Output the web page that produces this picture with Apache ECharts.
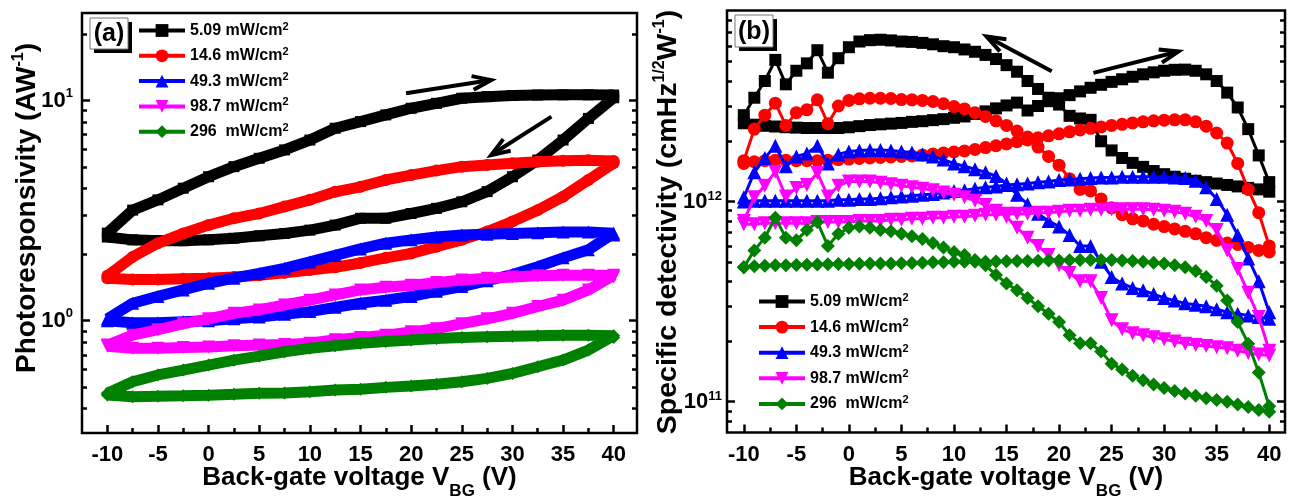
<!DOCTYPE html>
<html><head><meta charset="utf-8">
<script src="https://cdn.jsdelivr.net/npm/echarts@6/dist/echarts.min.js"></script>
<style>html,body{margin:0;padding:0;background:#fff}#c{width:1291px;height:497px}</style>
</head><body><div id="c"></div>
<script>
// ---------- data ----------
const seriesNames = ['5.09 mW/cm2','14.6 mW/cm2','49.3 mW/cm2','98.7 mW/cm2','296  mW/cm2'];
const colors = ['#000000','#ff0000','#0000ff','#ff00ff','#008000'];
const xTicks = [-10,-5,0,5,10,15,20,25,30,35,40];
const xMinorTicks = [-7.5,-2.5,2.5,7.5,12.5,17.5,22.5,27.5,32.5,37.5];
const yExpA = [0,1];
const yMinorA = [0.4,0.5,0.6,0.7,0.8,0.9,2,3,4,5,6,7,8,9,20];
const yExpB = [11,12];
const yMinorB = [8e10,9e10,2e11,3e11,4e11,5e11,6e11,7e11,8e11,9e11,2e12,3e12,4e12,5e12,6e12,7e12,8e12];

// panel (a): back-gate voltage (V), photoresponsivity (A/W)
const vA = [-10,-7.5,-5,-2.5,0,2.5,5,7.5,10,12.5,15,17.5,20,22.5,25,27.5,30,32.5,35,37.5,40];
// forward sweep listed -10 -> 40, reverse sweep listed 40 -> -10
const blackA_fwd = [2.5,3.18,3.54,4.0,4.51,5.01,5.47,5.97,6.62,7.49,8.03,8.61,9.23,9.72,10.25,10.42,10.55,10.6,10.62,10.62,10.6];
const blackA_rev = [10.3,8.3,6.62,5.37,4.51,3.86,3.47,3.24,3.07,2.92,2.92,2.72,2.58,2.49,2.43,2.37,2.33,2.31,2.31,2.33,2.4];
const redA_fwd = [1.6,1.95,2.25,2.49,2.72,2.92,3.07,3.3,3.54,3.85,4.06,4.36,4.59,4.81,5.01,5.1,5.19,5.28,5.33,5.36,5.32];
const redA_rev = [5.2,4.36,3.66,3.18,2.82,2.54,2.33,2.17,2.02,1.93,1.83,1.75,1.7,1.65,1.61,1.58,1.56,1.55,1.54,1.54,1.56];
const blueA_fwd = [1.02,1.2,1.29,1.38,1.48,1.56,1.64,1.73,1.85,1.98,2.12,2.25,2.33,2.4,2.45,2.47,2.49,2.51,2.53,2.53,2.5];
const blueA_rev = [2.45,2.1,1.93,1.76,1.62,1.52,1.43,1.36,1.29,1.24,1.2,1.15,1.1,1.07,1.04,1.02,1.0,0.99,0.98,0.98,1.0];
const magA_fwd = [0.775,0.86,0.91,0.97,1.02,1.08,1.12,1.18,1.24,1.31,1.38,1.42,1.45,1.49,1.53,1.56,1.58,1.6,1.61,1.61,1.61];
const magA_rev = [1.58,1.38,1.24,1.16,1.08,1.02,0.97,0.92,0.89,0.86,0.84,0.82,0.79,0.78,0.775,0.77,0.76,0.755,0.75,0.75,0.765];
const greenA_fwd = [0.468,0.528,0.567,0.597,0.629,0.662,0.691,0.723,0.749,0.77,0.79,0.805,0.817,0.83,0.84,0.845,0.85,0.855,0.86,0.86,0.855];
const greenA_rev = [0.84,0.736,0.663,0.618,0.576,0.547,0.528,0.515,0.505,0.498,0.488,0.484,0.476,0.47,0.468,0.463,0.459,0.456,0.454,0.452,0.46];

// panel (b): back-gate voltage (V), specific detectivity in units of 1e12 cmHz^1/2/W
const UNIT_B = 1e12;
const vB = [-10,-9,-8,-7,-6,-5,-4,-3,-2,-1,0,1,2,3,4,5,6,7,8,9,10,11,12,13,14,15,16,17,18,19,20,21,22,23,24,25,26,27,28,29,30,31,32,33,34,35,36,37,38,39,40];
const blackB_fwd = [2.46,2.42,2.39,2.37,2.35,2.34,2.33,2.33,2.33,2.33, 2.35,2.38,2.41,2.43,2.45,2.47,2.5,2.52,2.55,2.58, 2.62,2.66,2.74,2.82,2.92,3.02,3.12,2.85,3.0,3.17, 3.28,3.4,3.55,3.7,3.83,3.96,4.08,4.2,4.32,4.42, 4.5,4.55,4.56,4.5,4.32,4.0,3.5,2.95,2.3,1.7, 1.25];
const blackB_rev = [1.12,1.15,1.17,1.19,1.21,1.23,1.25,1.27,1.3,1.33, 1.37,1.42,1.49,1.56,1.65,1.8,2.0,2.56,2.6,2.68, 3.05,3.3,3.65,4.0,4.45,4.8,5.15,5.4,5.6,5.75, 5.9,5.97,6.1,6.2,6.27,6.3,6.38,6.43,6.4,6.3, 5.9,5.2,4.4,5.7,4.9,4.5,3.85,5.1,4.0,3.3, 2.7];
const redB_fwd = [1.55,1.58,1.6,1.61,1.61,1.6,1.6,1.6,1.61,1.62, 1.63,1.64,1.65,1.66,1.67,1.68,1.69,1.71,1.73,1.75, 1.77,1.79,1.82,1.86,1.9,1.94,1.99,2.03,2.08,2.13, 2.18,2.23,2.28,2.32,2.36,2.4,2.43,2.47,2.5,2.53, 2.55,2.56,2.56,2.5,2.38,2.2,1.96,1.55,1.15,0.88, 0.6];
const redB_rev = [0.56,0.57,0.59,0.61,0.62,0.64,0.66,0.69,0.71,0.73, 0.75,0.77,0.8,0.82,0.86,0.93,1.03,1.13,1.15,1.3, 1.52,1.68,1.87,2.1,2.25,2.4,2.53,2.66,2.78,2.9, 2.98,3.08,3.16,3.2,3.22,3.23,3.27,3.28,3.28,3.26, 3.2,3.0,2.45,3.22,2.87,2.78,2.4,3.1,2.7,2.3, 1.6];
const blueB_fwd = [1.0,1.01,1.01,1.01,1.01,1.01,1.01,1.01,1.01,1.02, 1.02,1.03,1.03,1.04,1.05,1.06,1.07,1.08,1.09,1.11, 1.13,1.14,1.16,1.18,1.19,1.21,1.22,1.23,1.25,1.26, 1.28,1.29,1.3,1.31,1.32,1.32,1.33,1.33,1.33,1.33, 1.33,1.32,1.31,1.27,1.18,1.03,0.86,0.68,0.52,0.4, 0.28];
const blueB_rev = [0.26,0.265,0.27,0.275,0.28,0.29,0.3,0.305,0.31,0.32, 0.33,0.345,0.36,0.37,0.39,0.42,0.5,0.6,0.6,0.68, 0.75,0.8,0.87,0.97,1.08,1.23,1.34,1.4,1.45,1.5, 1.55,1.62,1.68,1.72,1.76,1.78,1.8,1.81,1.81,1.8, 1.78,1.72,1.55,1.9,1.74,1.68,1.5,1.9,1.65,1.4, 1.05];
const magB_fwd = [0.77,0.77,0.78,0.78,0.78,0.78,0.78,0.79,0.79,0.79, 0.79,0.8,0.8,0.8,0.81,0.81,0.82,0.82,0.83,0.83, 0.84,0.84,0.85,0.86,0.86,0.87,0.87,0.87,0.88,0.88, 0.89,0.9,0.9,0.91,0.91,0.915,0.915,0.915,0.915,0.91, 0.9,0.89,0.87,0.84,0.8,0.72,0.57,0.46,0.35,0.265, 0.18];
const magB_rev = [0.17,0.172,0.175,0.18,0.185,0.187,0.19,0.192,0.195,0.2, 0.205,0.21,0.215,0.22,0.23,0.255,0.33,0.4,0.4,0.44, 0.48,0.54,0.6,0.66,0.74,0.84,0.9,0.96,1.01,1.05, 1.08,1.11,1.14,1.16,1.18,1.2,1.22,1.24,1.26,1.26, 1.26,1.2,1.06,1.39,1.21,1.17,1.06,1.41,1.2,1.05, 0.8];
const greenB_fwd = [0.47,0.475,0.478,0.48,0.48,0.482,0.484,0.485,0.486,0.487, 0.488,0.489,0.49,0.49,0.491,0.492,0.493,0.495,0.497,0.498, 0.5,0.5,0.5,0.5,0.502,0.503,0.504,0.505,0.506,0.507, 0.508,0.509,0.51,0.51,0.51,0.51,0.508,0.505,0.5,0.495, 0.49,0.48,0.47,0.45,0.42,0.38,0.32,0.25,0.195,0.14, 0.095];
const greenB_rev = [0.089,0.091,0.094,0.097,0.1,0.102,0.104,0.107,0.11,0.113, 0.117,0.122,0.128,0.135,0.145,0.155,0.178,0.196,0.196,0.215, 0.25,0.275,0.3,0.33,0.36,0.39,0.43,0.48,0.51,0.54, 0.56,0.59,0.62,0.65,0.67,0.69,0.71,0.72,0.74,0.75, 0.74,0.69,0.6,0.79,0.72,0.64,0.66,0.83,0.66,0.57, 0.47];

// direction arrows (data coordinates: [x0, y0, x1, y1])
const arrowsA = [[19.5,10.8,27.9,12.4],[33.85,8.46,27.9,5.66]];
const arrowsB = [[19.3,4.47e12,13.1,6.68e12],[23.27,4.39e12,31.37,5.62e12]];

// ---------- build ----------
const FONT = "'Liberation Sans', Arial, Helvetica, sans-serif";
const INV_TRI = 'path://M0,0L10,0L5,9Z';
const symbols = ['rect','circle','triangle',INV_TRI,'diamond'];
const symSizeA = [11,12,13,13,13];
const symSizeB = [12,13,14,14,14];

function loop(xs, fwd, rev, k) {
  const xr = xs.slice().reverse();
  return xs.map((x,i)=>[x, fwd[i]*k]).concat(xr.map((x,i)=>[x, rev[i]*k]));
}
const A = [[blackA_fwd,blackA_rev],[redA_fwd,redA_rev],[blueA_fwd,blueA_rev],[magA_fwd,magA_rev],[greenA_fwd,greenA_rev]];
const B = [[blackB_fwd,blackB_rev],[redB_fwd,redB_rev],[blueB_fwd,blueB_rev],[magB_fwd,magB_rev],[greenB_fwd,greenB_rev]];

const tickStyle = {color:'#000', width:2.5};
function tickAxis(gridIndex, min, max, position, ticks, len, label) {
  return {type:'value', gridIndex, min, max, position,
    splitLine:{show:false}, axisLine:{show:false, onZero:false},
    axisTick:{show:true, inside:true, length:len, customValues:ticks, lineStyle:tickStyle},
    axisLabel: label || {show:false}};
}
const lg = Math.log10;
const A_MIN = 0.309, A_MAX = 25, B_MIN = 7.02e10, B_MAX = 9.0e12;
const X_A = [-12.5, 42.3], X_B = [-11.6, 41.5];

function xLabel() {
  return {customValues:xTicks, fontSize:22, fontWeight:'bold', color:'#000', fontFamily:FONT, margin:11};
}
function yLabel(vals, margin, pad) {
  return {customValues:vals, fontSize:22, fontWeight:'bold', color:'#000', fontFamily:FONT, margin,
    formatter: v => '10{sup|' + Math.round(v) + '}',
    rich:{sup:{fontSize:13, fontWeight:'bold', color:'#000', fontFamily:FONT, padding:[0,0,pad,0]}}};
}

const xAxis = [
  tickAxis(0,X_A[0],X_A[1],'bottom',xTicks,8,xLabel()),
  tickAxis(0,X_A[0],X_A[1],'bottom',xMinorTicks,5),
  tickAxis(1,X_B[0],X_B[1],'bottom',xTicks,8,xLabel()),
  tickAxis(1,X_B[0],X_B[1],'bottom',xMinorTicks,5)
];
const logAxis = (g, mn, mx) => ({type:'log', logBase:10, gridIndex:g, min:mn, max:mx, show:false, position:'left',
  axisLine:{show:false, onZero:false}, splitLine:{show:false}});
const yAxis = [
  logAxis(0, A_MIN, A_MAX),
  tickAxis(0,lg(A_MIN),lg(A_MAX),'left',yExpA,8,yLabel(yExpA, 9, 15)),
  tickAxis(0,lg(A_MIN),lg(A_MAX),'left',yMinorA.map(lg),5),
  tickAxis(0,lg(A_MIN),lg(A_MAX),'right',yExpA,8),
  tickAxis(0,lg(A_MIN),lg(A_MAX),'right',yMinorA.map(lg),5),
  logAxis(1, B_MIN, B_MAX),
  tickAxis(1,lg(B_MIN),lg(B_MAX),'left',yExpB,8,yLabel(yExpB, 5, 11)),
  tickAxis(1,lg(B_MIN),lg(B_MAX),'left',yMinorB.map(lg),5),
  tickAxis(1,lg(B_MIN),lg(B_MAX),'right',yExpB,8),
  tickAxis(1,lg(B_MIN),lg(B_MAX),'right',yMinorB.map(lg),5)
];

const series = [];
A.forEach((s,i)=>series.push({type:'line', name:seriesNames[i], xAxisIndex:0, yAxisIndex:0,
  data:loop(vA, s[0], s[1], 1), symbol:symbols[i], symbolSize:symSizeA[i],
  lineStyle:{color:colors[i], width:11}, itemStyle:{color:colors[i]}, animation:false, z:2+i}));
B.forEach((s,i)=>series.push({type:'line', name:seriesNames[i], xAxisIndex:2, yAxisIndex:5,
  data:loop(vB, s[0], s[1], UNIT_B), symbol:symbols[i], symbolSize:symSizeB[i],
  lineStyle:{color:colors[i], width:3}, itemStyle:{color:colors[i]}, animation:false, z:2+i}));

function legend(left, top, gap) {
  return {left, top, orient:'vertical', padding:0, itemWidth:46, itemHeight:16, itemGap:gap,
    data:seriesNames, selectedMode:false, lineStyle:{width:4},
    formatter: n => n.replace(/2$/, '{sup|2}'),
    textStyle:{fontSize:16, fontWeight:'bold', color:'#000', fontFamily:FONT, lineHeight:16,
      rich:{sup:{fontSize:11, fontWeight:'bold', color:'#000', fontFamily:FONT, lineHeight:8, padding:[0,0,8,0]}}}};
}

const gridBase = {show:true, borderColor:'#000', borderWidth:2.5, backgroundColor:'transparent', containLabel:false, outerBoundsMode:'none'};

const chart = echarts.init(document.getElementById('c'));
chart.setOption({
  animation:false,
  backgroundColor:'#ffffff',
  grid:[Object.assign({left:82, top:13, width:555, height:420}, gridBase),
        Object.assign({left:727, top:10.5, width:558, height:422}, gridBase)],
  xAxis, yAxis, series,
  legend:[legend(137, 21, 6.3), legend(757, 292, 6.6)]
});

// ---------- annotations ----------
function txt(x, y, text, size, rot, rich) {
  return {type:'text', x, y, rotation:rot||0, z:100,
    style:{text, fontSize:size, fontWeight:'bold', fontFamily:FONT, fill:'#000',
      align:'center', verticalAlign:'middle', textAlign:'center', textVerticalAlign:'middle', rich:rich||{}}};
}
const supRich = {sup:{fontSize:16, fontWeight:'bold', fontFamily:FONT, fill:'#000', padding:[0,0,16,0]}};
const subRich = {sub:{fontSize:17, fontWeight:'bold', fontFamily:FONT, fill:'#000', padding:[26,0,0,0]}};
function panelTag(x, y, w, h, label) {
  return [
    {type:'rect', z:90, shape:{x:x+4, y:y+4, width:w, height:h}, style:{fill:'#000'}},
    {type:'rect', z:91, shape:{x, y, width:w, height:h}, style:{fill:'#fff', stroke:'#777', lineWidth:1}},
    txt(x + w/2, y + h/2 + 1, label, 25)
  ];
}
function arrowEls(p0, p1) {
  const dx = p1[0]-p0[0], dy = p1[1]-p0[1], L = Math.hypot(dx,dy), ux = -dx/L, uy = -dy/L;
  const hl = 20, a = 20*Math.PI/180;
  const w1 = [ux*Math.cos(a)-uy*Math.sin(a), ux*Math.sin(a)+uy*Math.cos(a)];
  const w2 = [ux*Math.cos(-a)-uy*Math.sin(-a), ux*Math.sin(-a)+uy*Math.cos(-a)];
  return [
    {type:'line', z:95, shape:{x1:p0[0], y1:p0[1], x2:p1[0], y2:p1[1]}, style:{stroke:'#000', lineWidth:4}},
    {type:'polyline', z:95, shape:{points:[[p1[0]+w1[0]*hl, p1[1]+w1[1]*hl], [p1[0], p1[1]], [p1[0]+w2[0]*hl, p1[1]+w2[1]*hl]]},
      style:{stroke:'#000', fill:'none', lineWidth:4}}
  ];
}
const graphics = [];
arrowsA.forEach(a => {
  const f = {xAxisIndex:0, yAxisIndex:0};
  graphics.push(...arrowEls(chart.convertToPixel(f, [a[0],a[1]]), chart.convertToPixel(f, [a[2],a[3]])));
});
arrowsB.forEach(a => {
  const f = {xAxisIndex:2, yAxisIndex:5};
  graphics.push(...arrowEls(chart.convertToPixel(f, [a[0],a[1]]), chart.convertToPixel(f, [a[2],a[3]])));
});
graphics.push(...panelTag(90, 18, 38, 31, '(a)'));
graphics.push(...panelTag(735, 15, 38, 32, '(b)'));
graphics.push(txt(359.5, 478, 'Back-gate voltage V{sub|BG} (V)', 26, 0, subRich));
graphics.push(txt(1006, 478, 'Back-gate voltage V{sub|BG} (V)', 26, 0, subRich));
graphics.push(txt(27, 208, 'Photoresponsivity (AW{sup|-1})', 28, Math.PI/2, supRich));
graphics.push(txt(668, 222, 'Specific detectivity (cmHz{sup|1/2}W{sup|-1})', 28.5, Math.PI/2, supRich));
chart.setOption({graphic: graphics});
</script>
</body></html>
